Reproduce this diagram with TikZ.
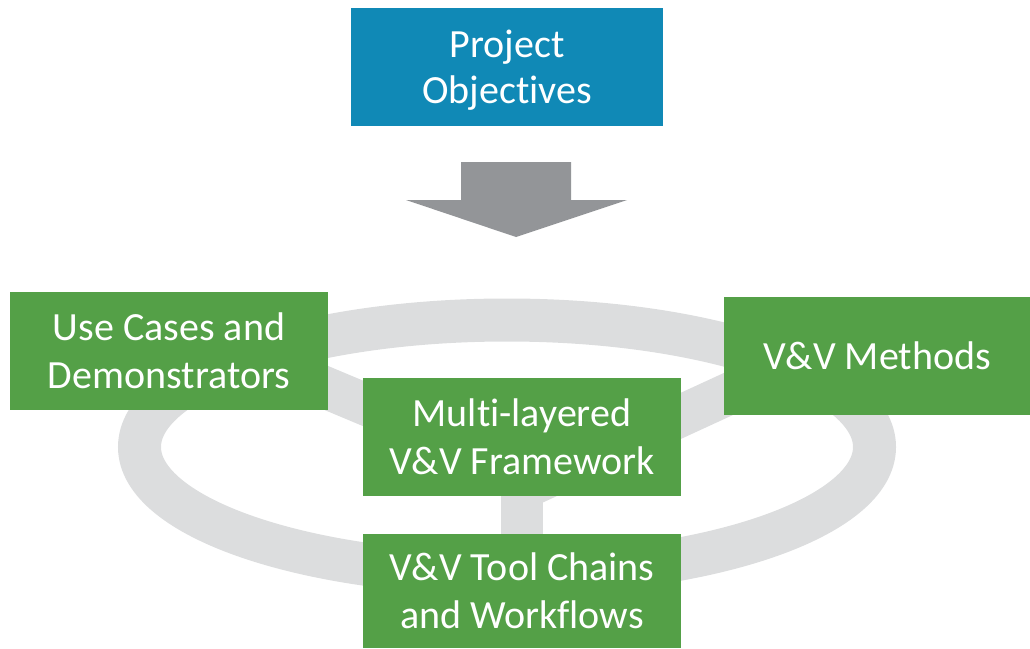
\documentclass[tikz,border=0pt]{standalone}
\usepackage{fontspec}
\setmainfont{Carlito}[RawFeature={-liga;-clig}]
\newcommand{\nolig}{\kern0pt}
\definecolor{pblue}{RGB}{16,137,182}
\definecolor{pgreen}{RGB}{84,160,71}
\definecolor{ringgray}{RGB}{220,221,222}
\definecolor{arrowgray}{RGB}{147,149,152}
\tikzset{
  boxtext/.style={text=white, align=center, inner sep=0pt,
    font=\fontsize{40}{48}\selectfont},
  box/.style={fill=pgreen, boxtext},
  ring/.style={draw=ringgray, line width=43pt},
  spoke/.style={draw=ringgray, line width=42pt}
}
\begin{document}
\begin{tikzpicture}[x=1pt,y=-1pt]
\useasboundingbox (0,0) rectangle (1030,648);
% ring
\draw[ring] (507,447) ellipse [x radius=367.5, y radius=127];
% spoke end points
\coordinate (hl) at (522,470);
\coordinate (hr) at (522,489);
\coordinate (hc) at (522,437);
\coordinate (el) at (250,356);
\coordinate (er) at (800,361);
\coordinate (eb) at (522,590);
\draw[spoke] (hl) -- (el);
\draw[spoke] (hr) -- (er);
\draw[spoke] (hc) -- (eb);
% arrow
\fill[arrowgray] (461,162) -- (571,162) -- (571,200) -- (627,200) -- (516,237) -- (406,200) -- (461,200) -- cycle;
% boxes
\node[box, fill=pblue, minimum width=312pt, minimum height=118pt,
  label={[boxtext, font=\fontsize{40}{46}\selectfont, yshift=-3pt]center:{Project\\Objec\nolig t\nolig ives}}] (po) at (507,67) {};
\node[box, minimum width=318pt, minimum height=118pt] (uc) at (169,351) {Use Cases and\\Demonstrators};
\node[box, minimum width=306pt, minimum height=118pt] (vm) at (877,356) {V\&V Methods};
\node[box, minimum width=318pt, minimum height=118pt] (mf) at (522,437) {Mul\nolig t\nolig i-layered\\V\&V Framework};
\node[box, minimum width=318pt, minimum height=114pt] (tc) at (522,591) {V\&V Tool Chains\\and Workflows};
\end{tikzpicture}
\end{document}
